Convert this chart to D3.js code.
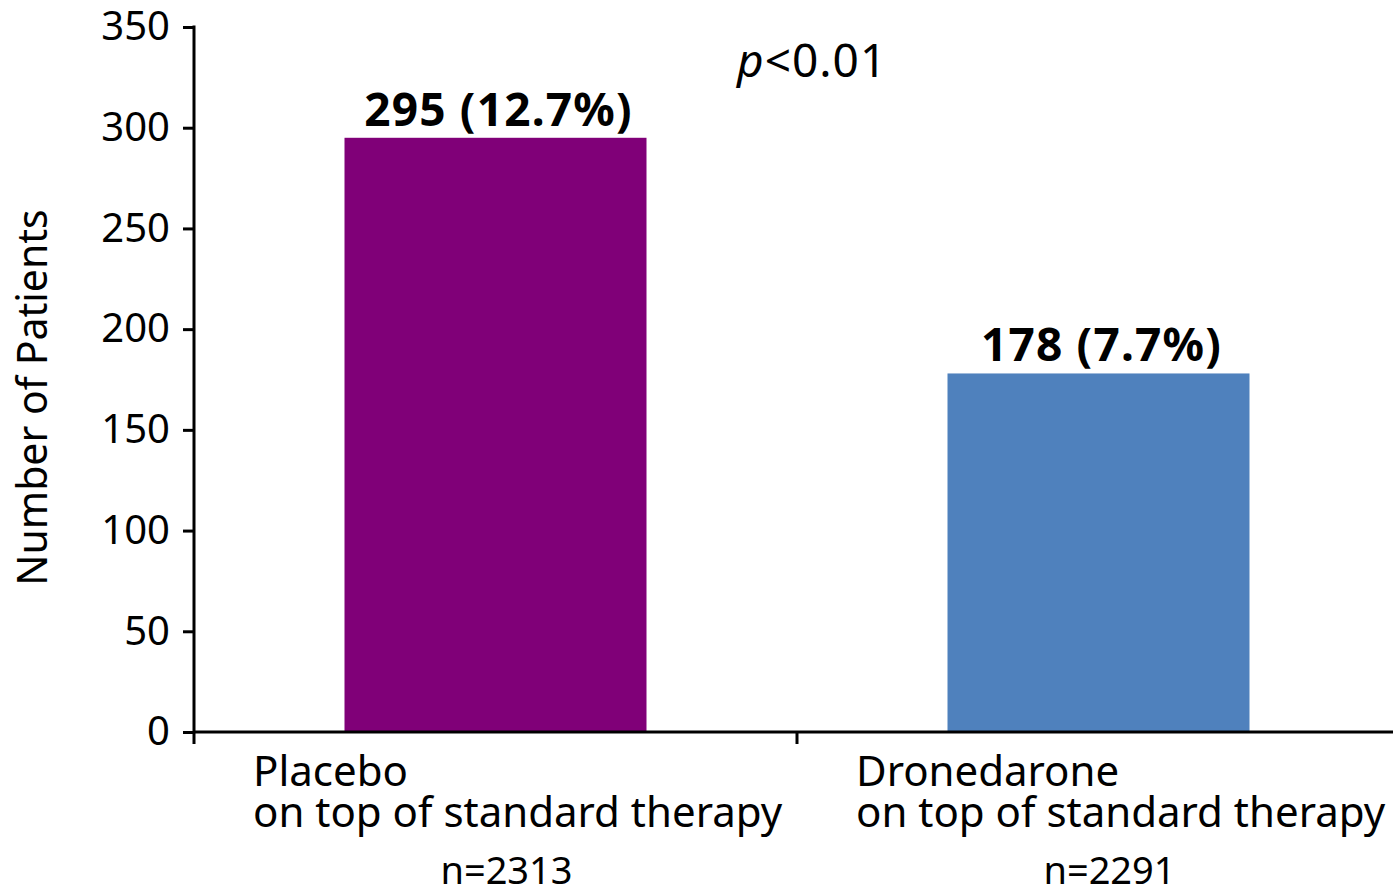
<!DOCTYPE html>
<html>
<head>
<meta charset="utf-8">
<script src="https://cdn.jsdelivr.net/npm/d3@7"></script>
<style>
  html, body { margin: 0; padding: 0; background: #fff; }
  svg { display: block; font-family: "Noto Sans", "Open Sans", sans-serif; }
</style>
</head>
<body>
<svg id="chart" width="1393" height="889"></svg>
<script>
// Patients per treatment arm
const categories = ["Placebo", "Dronedarone"];
const subtitles = ["on top of standard therapy", "on top of standard therapy"];
const patients = [295, 178];
const percents = ["12.7%", "7.7%"];
const sampleSizes = ["n=2313", "n=2291"];
const colors = ["#800078", "#4f81bd"];
const yTicks = [0, 50, 100, 150, 200, 250, 300, 350];

const svg = d3.select("#chart");
const margin = { left: 194, right: -7, top: 27, bottom: 157 };
const W = 1393, H = 889;

const x = d3.scaleBand()
  .domain(categories)
  .range([margin.left, W - margin.right])
  .paddingInner(0)
  .paddingOuter(0);

const y = d3.scaleLinear()
  .domain([0, 350])
  .range([H - margin.bottom, margin.top]);

const barW = 302;

// Bars
svg.selectAll("rect.bar")
  .data(categories)
  .join("rect")
  .attr("class", "bar")
  .attr("x", d => x(d) + x.bandwidth() / 2 - barW / 2)
  .attr("width", barW)
  .attr("y", (d, i) => y(patients[i]))
  .attr("height", (d, i) => y(0) - y(patients[i]))
  .attr("fill", (d, i) => colors[i]);

// Value labels
svg.selectAll("text.val")
  .data(categories)
  .join("text")
  .attr("class", "val")
  .attr("x", d => x(d) + x.bandwidth() / 2 + 3)
  .attr("y", (d, i) => y(patients[i]) - 12)
  .attr("text-anchor", "middle")
  .attr("font-size", 46)
  .attr("font-weight", "bold")
  .attr("letter-spacing", 1.2)
  .attr("fill", "#000")
  .text((d, i) => `${patients[i]} (${percents[i]})`);

// Y axis
const yAxis = d3.axisLeft(y).tickValues(yTicks).tickSize(11).tickPadding(13).tickSizeOuter(0);
const gy = svg.append("g")
  .attr("transform", `translate(${margin.left},0)`)
  .call(yAxis);
gy.select(".domain").remove();
gy.selectAll(".tick line").attr("stroke", "#000").attr("stroke-width", 3);
gy.selectAll(".tick text")
  .attr("font-size", 40)
  .attr("fill", "#000")
  .attr("font-family", "'Noto Sans', sans-serif");
gy.append("line")
  .attr("x1", 0).attr("x2", 0)
  .attr("y1", y(350) - 1.5).attr("y2", y(0) + 12)
  .attr("stroke", "#000").attr("stroke-width", 3);

// X axis baseline and category divider tick
svg.append("line")
  .attr("x1", margin.left).attr("x2", W)
  .attr("y1", y(0)).attr("y2", y(0))
  .attr("stroke", "#000").attr("stroke-width", 3);
svg.append("line")
  .attr("x1", x(categories[1])).attr("x2", x(categories[1]))
  .attr("y1", y(0)).attr("y2", y(0) + 12)
  .attr("stroke", "#000").attr("stroke-width", 3);

// Category labels (two lines each) and sample sizes
const catG = svg.selectAll("g.cat")
  .data(categories)
  .join("g")
  .attr("class", "cat");
const catText = catG.append("text")
  .attr("font-size", 42)
  .attr("fill", "#000");
catText.append("tspan")
  .attr("x", d => x(d) + 59)
  .attr("y", 786)
  .text(d => d);
catText.append("tspan")
  .attr("x", d => x(d) + 59)
  .attr("y", 827)
  .text((d, i) => subtitles[i]);
catG.append("text")
  .attr("x", d => x(d) + x.bandwidth() / 2 + 11)
  .attr("y", 884)
  .attr("text-anchor", "middle")
  .attr("font-size", 38)
  .attr("fill", "#000")
  .text((d, i) => sampleSizes[i]);

// Y axis title
svg.append("text")
  .attr("transform", `translate(47, ${(210 + 585) / 2}) rotate(-90)`)
  .attr("text-anchor", "middle")
  .attr("font-size", 41)
  .attr("fill", "#000")
  .text("Number of Patients");

// Significance annotation
const pText = svg.append("text")
  .attr("x", 737)
  .attr("y", 77)
  .attr("font-size", 46)
  .attr("letter-spacing", 1)
  .attr("fill", "#000");
pText.append("tspan").attr("font-style", "italic").text("p");
pText.append("tspan").text("<0.01");
</script>
</body>
</html>
